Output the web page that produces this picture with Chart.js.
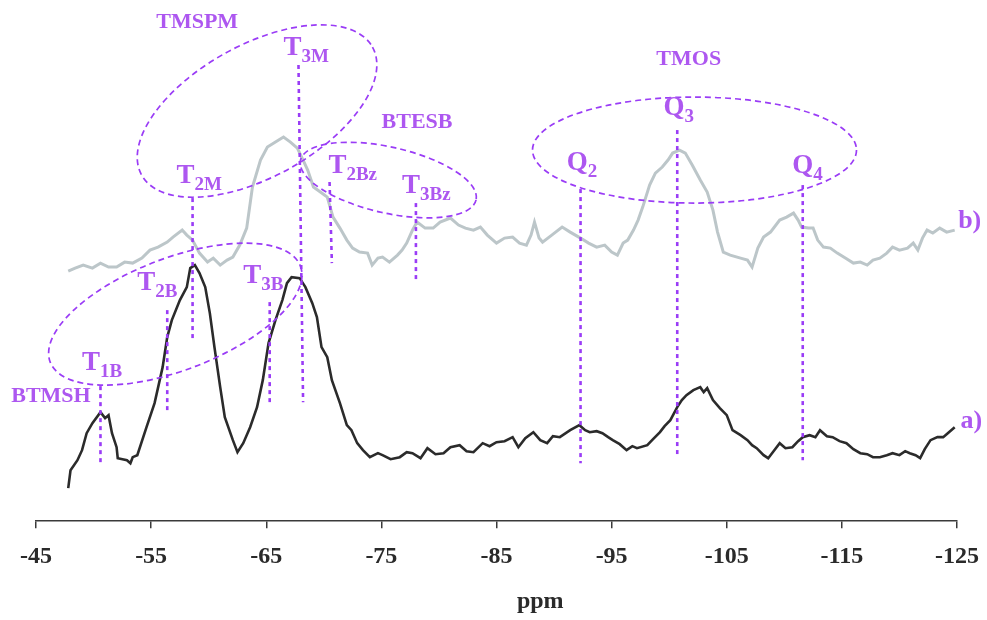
<!DOCTYPE html>
<html>
<head>
<meta charset="utf-8">
<script src="https://cdn.jsdelivr.net/npm/chart.js@4/dist/chart.umd.min.js"></script>
<style>
  html, body { margin: 0; padding: 0; background: #fff; }
  canvas { display: block; }
</style>
</head>
<body>
<canvas id="c" width="987" height="620"></canvas>
<script>
// 29Si NMR spectra: chemical shift (ppm) and intensity (arbitrary units)
const ppmA = [-47.8,-48.0,-48.6,-49.0,-49.4,-49.9,-50.6,-51.0,-51.3,-51.6,
  -52.0,-52.1,-52.9,-53.2,-53.4,-53.8,-54.6,-55.3,-56.0,-56.4,
  -56.8,-57.5,-58.1,-58.4,-58.8,-59.2,-59.7,-60.1,-60.5,-61.0,
  -61.4,-62.1,-62.5,-63.0,-63.6,-64.2,-64.7,-65.2,-65.8,-66.4,
  -66.8,-67.2,-67.9,-68.4,-69.0,-69.4,-69.8,-70.3,-70.7,-71.4,
  -72.0,-72.4,-72.9,-73.4,-74.0,-74.7,-75.1,-75.8,-76.6,-77.2,
  -77.7,-78.4,-79.0,-79.7,-80.4,-81.0,-81.8,-82.4,-83.0,-83.8,
  -84.4,-85.0,-85.7,-86.4,-86.9,-87.5,-88.2,-88.8,-89.4,-89.9,
  -90.5,-91.4,-92.2,-92.7,-93.1,-93.7,-94.2,-94.7,-95.1,-95.7,
  -96.3,-96.8,-97.2,-98.1,-98.6,-99.2,-99.6,-100.1,-100.7,-101.1,
  -101.5,-102.1,-102.7,-103.0,-103.3,-103.8,-104.4,-105.0,-105.5,-106.2,
  -106.8,-107.2,-107.6,-108.2,-108.6,-109.0,-109.6,-110.1,-110.7,-111.2,
  -111.6,-112.2,-112.7,-113.1,-113.7,-114.2,-114.8,-115.4,-116.0,-116.6,
  -117.2,-117.7,-118.3,-118.9,-119.4,-120.0,-120.5,-120.9,-121.4,-121.8,
  -122.2,-122.7,-123.3,-123.8,-124.2,-124.8];
const intA = [33,51,61,71,88,98,109,103,106,88,
  74,63,61,58,64,66,94,118,154,184,
  201,221,234,253,256,248,234,208,174,134,
  104,81,69,78,94,114,141,178,201,221,
  238,244,243,234,218,204,174,164,141,118,
  96,91,78,71,64,68,66,62,64,69,
  68,63,73,67,68,74,76,70,69,78,
  75,79,80,84,74,83,89,81,78,85,
  84,91,96,91,89,90,88,84,81,77,
  71,75,73,76,82,89,95,101,114,121,
  126,131,134,129,133,121,113,106,91,86,
  81,76,73,66,63,69,78,73,74,80,
  84,86,84,91,85,84,80,78,72,68,
  67,64,64,66,68,66,70,68,66,63,
  72,81,84,84,88,94];

const ppmB = [-47.8,-48.4,-49.1,-49.9,-50.6,-51.3,-52.0,-52.7,-53.4,-54.2,
  -54.9,-55.6,-56.4,-56.9,-57.7,-58.1,-58.6,-59.2,-59.9,-60.4,
  -61.0,-61.6,-62.1,-62.7,-63.3,-63.8,-64.5,-65.1,-65.8,-66.5,
  -67.1,-67.7,-68.2,-68.6,-69.1,-69.7,-70.3,-70.8,-71.4,-72.0,
  -72.5,-73.1,-73.8,-74.2,-74.7,-75.1,-75.7,-76.4,-76.8,-77.2,
  -77.7,-78.1,-78.8,-79.5,-80.1,-81.0,-81.7,-82.3,-83.0,-83.6,
  -84.2,-85.0,-85.7,-86.4,-87.0,-87.6,-88.0,-88.3,-88.7,-89.0,
  -89.8,-90.7,-91.4,-92.3,-93.0,-93.7,-94.4,-95.0,-95.5,-96.0,
  -96.4,-96.9,-97.3,-97.7,-98.3,-98.8,-99.4,-99.9,-100.3,-100.9,
  -101.4,-102.0,-102.7,-103.3,-103.8,-104.2,-104.7,-105.3,-106.2,-106.8,
  -107.2,-107.7,-108.2,-108.8,-109.6,-110.2,-110.8,-111.2,-111.5,-112.1,
  -112.5,-112.9,-113.4,-114.0,-114.6,-115.3,-116.0,-116.6,-117.2,-117.7,
  -118.3,-118.9,-119.4,-120.0,-120.7,-121.2,-121.6,-122.0,-122.4,-122.9,
  -123.5,-124.1,-124.8];
const intB = [250,253,256,253,258,254,254,259,258,263,
  271,274,279,284,291,286,281,268,259,263,
  256,261,264,276,293,334,361,374,379,384,
  379,373,361,351,334,329,324,304,293,281,
  273,269,268,256,263,264,259,266,271,278,
  291,299,293,293,299,303,296,293,291,294,
  286,278,283,284,278,276,286,299,283,279,
  286,294,289,283,278,274,276,269,266,278,
  281,291,301,314,336,348,354,361,368,371,
  368,356,341,329,311,289,269,266,263,261,
  254,273,284,289,301,304,308,301,294,293,
  293,281,274,273,268,263,258,259,256,261,
  263,268,274,271,273,278,271,283,291,288,
  293,289,291];

const ppmTicks = [-45,-55,-65,-75,-85,-95,-105,-115,-125];

// Assignment markers (dashed verticals): shift at upper / lower end, intensity span
const markerNames     = ['T1B','T2B','T2M','T3B','T3M','T2Bz','T3Bz','Q2','Q3','Q4'];
const markerTopPpm    = [-50.6,-56.4,-58.6,-65.3,-67.8,-70.5,-78.0,-92.3,-100.7,-111.6];
const markerBottomPpm = [-50.6,-56.4,-58.6,-65.3,-68.2,-70.7,-78.0,-92.3,-100.7,-111.6];
const markerTop       = [135,211,323,219,456,339,318,332,391,336];
const markerBottom    = [59,108,181,118,119,258,241,58,65,61];

// Site labels (letter + subscript), anchored at shift / intensity
const siteMain = ['T','T','T','T','T','T','T','Q','Q','Q'];
const siteSub  = ['1B','2B','2M','3B','3M','2Bz','3Bz','2','3','4'];
const sitePpm  = [-49.0,-53.8,-57.2,-63.0,-66.5,-70.4,-76.8,-91.1,-99.5,-110.7];
const siteInt  = [151,231,338,238,466,348,328,351,406,348];

// Precursor names
const groupText = ['TMSPM','BTESB','TMOS','BTMSH'];
const groupPpm  = [-59.0,-78.1,-101.7,-46.3];
const groupInt  = [493,393,456,119];

// Spectrum tags
const curveText = ['a)','b)'];
const curvePpm  = [-125.3,-125.1];
const curveInt  = [93,293];

// Dashed rings around each precursor's sites (centre in data units)
const ringPpm = [-64.2,-75.6,-57.1,-102.2];
const ringInt = [410,341,207,371];

const PURPLE_TEXT = '#ad57f0';
const PURPLE_LINE = '#9a3cf6';
const SERIF = '"Liberation Serif", "Times New Roman", serif';

const ringShape = [
  { rx: 132, ry: 66, rot: -29 },
  { rx: 90,  ry: 33, rot: 12.7 },
  { rx: 134, ry: 56, rot: -21 },
  { rx: 162, ry: 53, rot: 0 }
];

const markerSets = markerNames.map((name, i) => ({
  label: name,
  data: [{ x: markerTopPpm[i], y: markerTop[i] }, { x: markerBottomPpm[i], y: markerBottom[i] }],
  borderColor: PURPLE_LINE,
  borderWidth: 2.6,
  borderDash: [4, 4],
  pointRadius: 0,
  order: 0
}));

const decorations = {
  id: 'decorations',
  afterDatasetsDraw(chart) {
    const { ctx, scales: { x, y }, chartArea } = chart;
    ctx.save();

    // rings
    ringPpm.forEach((p, i) => {
      const s = ringShape[i];
      ctx.save();
      ctx.translate(x.getPixelForValue(p), y.getPixelForValue(ringInt[i]));
      ctx.rotate(s.rot * Math.PI / 180);
      ctx.beginPath();
      ctx.ellipse(0, 0, s.rx, s.ry, 0, 0, Math.PI * 2);
      ctx.setLineDash([6, 4]);
      ctx.lineWidth = 1.7;
      ctx.strokeStyle = PURPLE_LINE;
      ctx.stroke();
      ctx.restore();
    });

    ctx.fillStyle = PURPLE_TEXT;
    ctx.textBaseline = 'alphabetic';

    // site labels
    siteMain.forEach((m, i) => {
      const px = x.getPixelForValue(sitePpm[i]);
      const py = y.getPixelForValue(siteInt[i]);
      ctx.textAlign = 'left';
      ctx.font = 'bold 27px ' + SERIF;
      ctx.fillText(m, px, py);
      const w = ctx.measureText(m).width;
      ctx.font = 'bold 19px ' + SERIF;
      ctx.fillText(siteSub[i], px + w, py + 7);
    });

    // precursor names
    ctx.font = 'bold 22px ' + SERIF;
    ctx.textAlign = 'center';
    groupText.forEach((t, i) => {
      ctx.fillText(t, x.getPixelForValue(groupPpm[i]), y.getPixelForValue(groupInt[i]));
    });

    // spectrum tags
    ctx.font = 'bold 26px ' + SERIF;
    ctx.textAlign = 'left';
    curveText.forEach((t, i) => {
      ctx.fillText(t, x.getPixelForValue(curvePpm[i]), y.getPixelForValue(curveInt[i]));
    });

    // axis title
    ctx.fillStyle = '#2a2a2a';
    ctx.font = 'bold 24px ' + SERIF;
    ctx.textAlign = 'center';
    ctx.fillText('ppm', x.getPixelForValue(-88.8), chartArea.bottom + 87);

    ctx.restore();
  }
};

new Chart(document.getElementById('c'), {
  type: 'line',
  data: {
    datasets: [
      ...markerSets,
      {
        label: 'a)',
        data: ppmA.map((p, i) => ({ x: p, y: intA[i] })),
        borderColor: '#2b2b2b',
        borderWidth: 2.6,
        pointRadius: 0,
        order: 1
      },
      {
        label: 'b)',
        data: ppmB.map((p, i) => ({ x: p, y: intB[i] })),
        borderColor: '#bcc6c9',
        borderWidth: 3,
        pointRadius: 0,
        order: 2
      }
    ]
  },
  options: {
    responsive: false,
    animation: false,
    parsing: true,
    layout: { padding: { left: 36, right: 30, top: 0, bottom: 35 } },
    elements: { line: { tension: 0 } },
    plugins: { legend: { display: false }, tooltip: { enabled: false } },
    scales: {
      x: {
        type: 'linear',
        min: -125,
        max: -45,
        reverse: true,
        afterBuildTicks: s => { s.ticks = ppmTicks.map(v => ({ value: v })); },
        afterFit: s => { s.paddingLeft = 0; s.paddingRight = 0; },
        grid: { drawOnChartArea: false, drawTicks: true, tickLength: 7, color: '#3a3a3a', lineWidth: 1.5 },
        border: { display: true, color: '#3a3a3a', width: 1.5 },
        ticks: {
          padding: 14,
          color: '#2a2a2a',
          autoSkip: false,
          maxRotation: 0,
          font: { family: SERIF, size: 24, weight: 'bold' }
        }
      },
      y: { display: false, min: 0, max: 521 }
    }
  },
  plugins: [decorations]
});
</script>
</body>
</html>
